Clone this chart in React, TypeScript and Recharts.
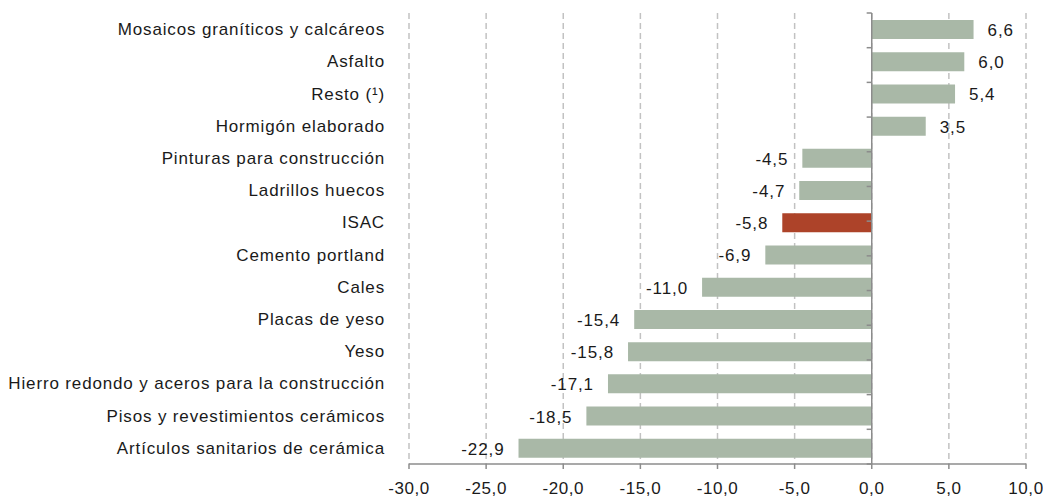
import { Bar, BarChart, CartesianGrid, Cell, LabelList, ReferenceLine, XAxis, YAxis } from "recharts";

const categories = [
  "Mosaicos graníticos y calcáreos",
  "Asfalto",
  "Resto (¹)",
  "Hormigón elaborado",
  "Pinturas para construcción",
  "Ladrillos huecos",
  "ISAC",
  "Cemento portland",
  "Cales",
  "Placas de yeso",
  "Yeso",
  "Hierro redondo y aceros para la construcción",
  "Pisos y revestimientos cerámicos",
  "Artículos sanitarios de cerámica",
];
const values = [6.6, 6.0, 5.4, 3.5, -4.5, -4.7, -5.8, -6.9, -11.0, -15.4, -15.8, -17.1, -18.5, -22.9];
const xTicks = [-30, -25, -20, -15, -10, -5, 0, 5, 10];
const highlight = "ISAC";

const data = categories.map((name, i) => ({ name, value: values[i] }));
const edges = categories.map((_, i) => i).concat(categories.length);

const FONT = "'Liberation Sans', Arial, Helvetica, sans-serif";
const fmt = (v: number) => v.toFixed(1).replace(".", ",");

function ValueLabel(props: any) {
  const { x, y, width, height, value } = props;
  if (x == null || value == null) return null;
  const left = Math.min(x, x + width);
  const right = Math.max(x, x + width);
  const pos = value >= 0;
  return (
    <text
      x={pos ? right + 14 : left - 14}
      y={y + height / 2 + 2}
      textAnchor={pos ? "start" : "end"}
      dominantBaseline="middle"
      fill="#1a1a1a"
      fontSize={17}
      letterSpacing={0.9}
      fontFamily={FONT}
    >
      {fmt(value)}
    </text>
  );
}

export default function App() {
  return (
    <div style={{ position: "absolute", left: 0, top: 0, width: 1043, height: 498, background: "#fff" }}>
      <BarChart
        width={1043}
        height={498}
        data={data}
        layout="vertical"
        margin={{ top: 13, right: 17, left: 0, bottom: 0 }}
      >
        <CartesianGrid horizontal={false} stroke="#c2c2c2" strokeWidth={1.5} strokeDasharray="6 4" />
        <XAxis
          type="number"
          domain={[-30, 10]}
          ticks={xTicks}
          interval={0}
          height={34}
          tickFormatter={fmt}
          axisLine={{ stroke: "#8c8c8c", strokeWidth: 1.5 }}
          tickLine={{ stroke: "#8c8c8c", strokeWidth: 1.5 }}
          tickSize={5}
          tickMargin={13}
          tick={{ fill: "#1a1a1a", fontSize: 17, fontFamily: FONT, letterSpacing: 0.6 }}
        />
        <YAxis
          type="category"
          dataKey="name"
          width={409}
          interval={0}
          axisLine={false}
          tickLine={false}
          tickSize={0}
          tickMargin={24}
          tick={{ fill: "#1a1a1a", fontSize: 17, fontFamily: FONT, letterSpacing: 0.85 }}
        />
        <YAxis yAxisId="edge" type="number" domain={[0, categories.length]} reversed hide />
        <Bar dataKey="value" barSize={19} isAnimationActive={false}>
          {data.map((d) => (
            <Cell key={d.name} fill={d.name === highlight ? "#ad4329" : "#a9b8a7"} />
          ))}
          <LabelList dataKey="value" content={<ValueLabel />} />
        </Bar>
        <ReferenceLine x={0} stroke="#8c8c8c" strokeWidth={1.5} />
        {edges.map((k) => (
          <ReferenceLine
            key={k}
            yAxisId="edge"
            segment={[
              { x: -0.33, y: k },
              { x: 0, y: k },
            ]}
            stroke="#8c8c8c"
            strokeWidth={1.5}
          />
        ))}
      </BarChart>
    </div>
  );
}
